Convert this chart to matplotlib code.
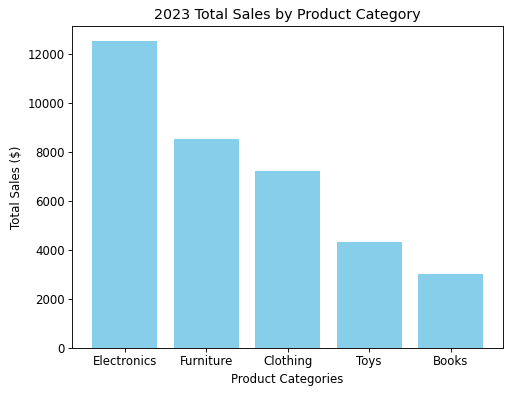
import matplotlib
matplotlib.use("Agg")
import matplotlib.pyplot as plt

categories = ["Electronics", "Furniture", "Clothing", "Toys", "Books"]
sales = [12500, 8500, 7200, 4300, 3000]

plt.rcParams["font.size"] = 10.6

fig, ax = plt.subplots(figsize=(6.4, 4.925), dpi=80)
fig.subplots_adjust(left=0.1416, right=0.982, bottom=0.1175, top=0.934)

ax.bar(categories, sales, color="skyblue")
ax.set_title("2023 Total Sales by Product Category", fontsize=12.8)
ax.set_xlabel("Product Categories")
ax.set_ylabel("Total Sales ($)")

fig.savefig("out.png", dpi=80)
